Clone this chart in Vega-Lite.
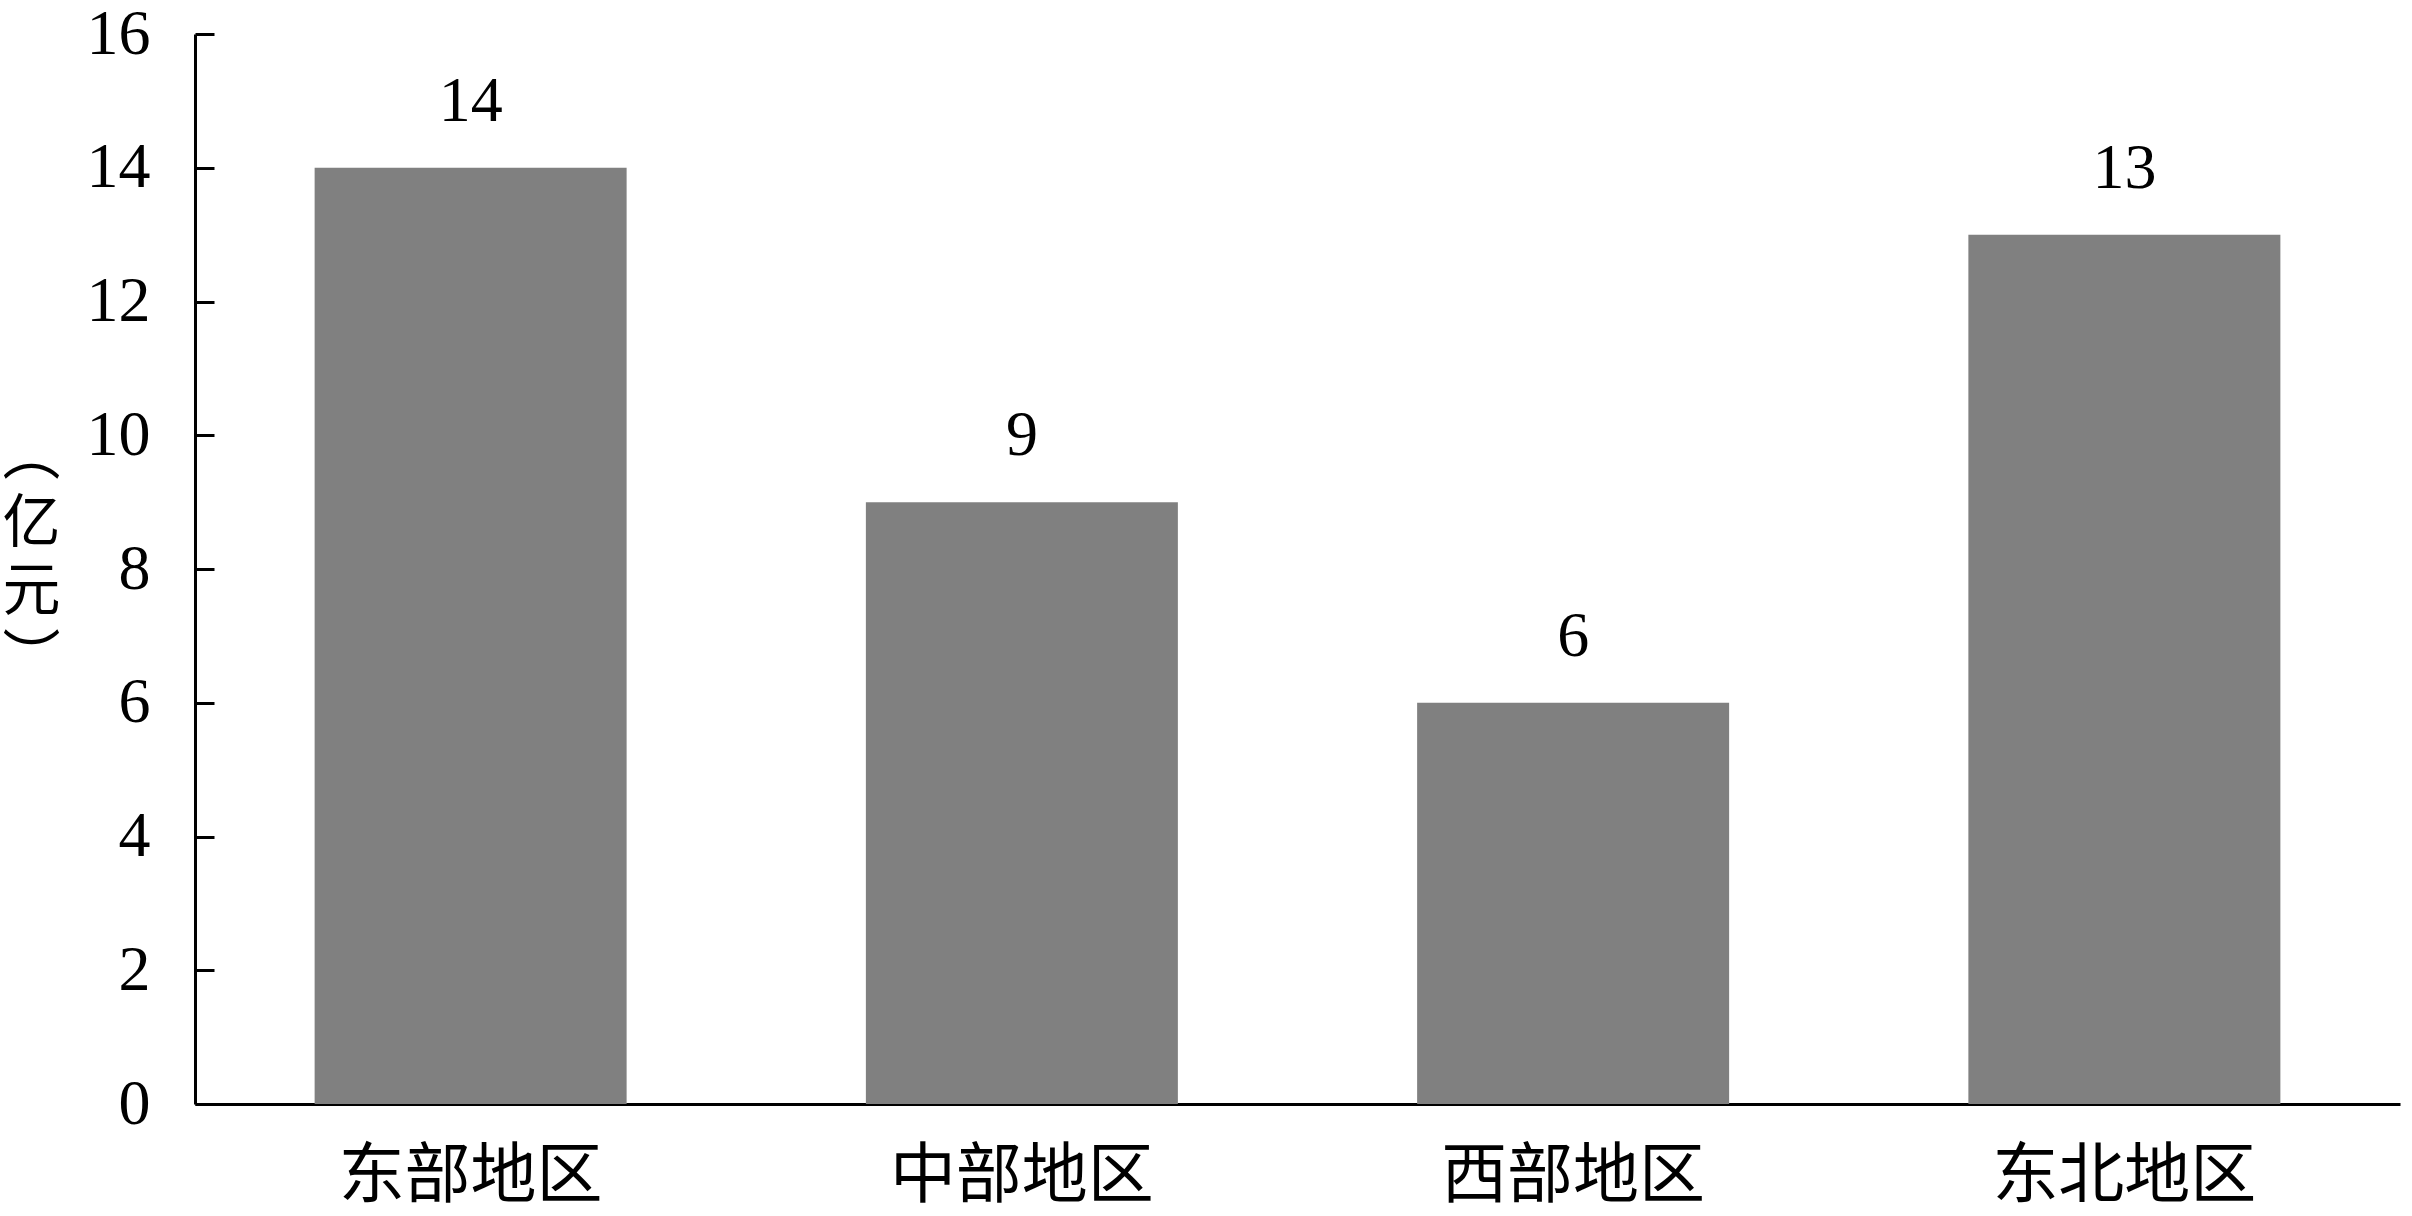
{
  "$schema": "https://vega.github.io/schema/vega-lite/v6.json",
  "width": 2205,
  "height": 1070,
  "autosize": "none",
  "padding": {"left": 195, "top": 34, "right": 12, "bottom": 112},
  "background": "white",
  "data": {
    "values": [
      {"region": "东部地区", "value": 14},
      {"region": "中部地区", "value": 9},
      {"region": "西部地区", "value": 6},
      {"region": "东北地区", "value": 13}
    ]
  },
  "config": {
    "view": {"stroke": null},
    "font": "Liberation Serif, Noto Sans CJK SC"
  },
  "encoding": {
    "x": {
      "field": "region",
      "type": "nominal",
      "sort": null,
      "scale": {"paddingInner": 0.434, "paddingOuter": 0.217},
      "axis": {
        "title": null,
        "labelAngle": 0,
        "labelLimit": 0,
        "labelFont": "Liberation Serif, Noto Sans CJK SC",
        "labelFontSize": 66,
        "labelColor": "black",
        "labelPadding": 40,
        "ticks": false,
        "tickSize": 0,
        "domainColor": "black",
        "domainWidth": 3
      }
    },
    "y": {
      "field": "value",
      "type": "quantitative",
      "scale": {"domain": [0, 16], "nice": false},
      "axis": {
        "values": [0, 2, 4, 6, 8, 10, 12, 14, 16],
        "grid": false,
        "title": ["︵", "亿", "元", "︶"],
        "titleAngle": 0,
        "titleFont": "Noto Sans CJK SC",
        "titleFontSize": 58,
        "titleFontWeight": "normal",
        "titleLineHeight": 68,
        "titleAlign": "center",
        "titleBaseline": "top",
        "titleX": -164,
        "titleY": 393,
        "titleColor": "black",
        "labelFont": "Liberation Serif",
        "labelFontSize": 64,
        "labelColor": "black",
        "labelPadding": 64,
        "tickSize": -19,
        "tickWidth": 3,
        "tickColor": "black",
        "domainColor": "black",
        "domainWidth": 3
      }
    }
  },
  "layer": [
    {"mark": {"type": "bar", "color": "#808080"}},
    {
      "mark": {
        "type": "text",
        "font": "Liberation Serif",
        "fontSize": 64,
        "color": "black",
        "baseline": "alphabetic",
        "dy": -47
      },
      "encoding": {"text": {"field": "value", "type": "quantitative"}}
    }
  ]
}
